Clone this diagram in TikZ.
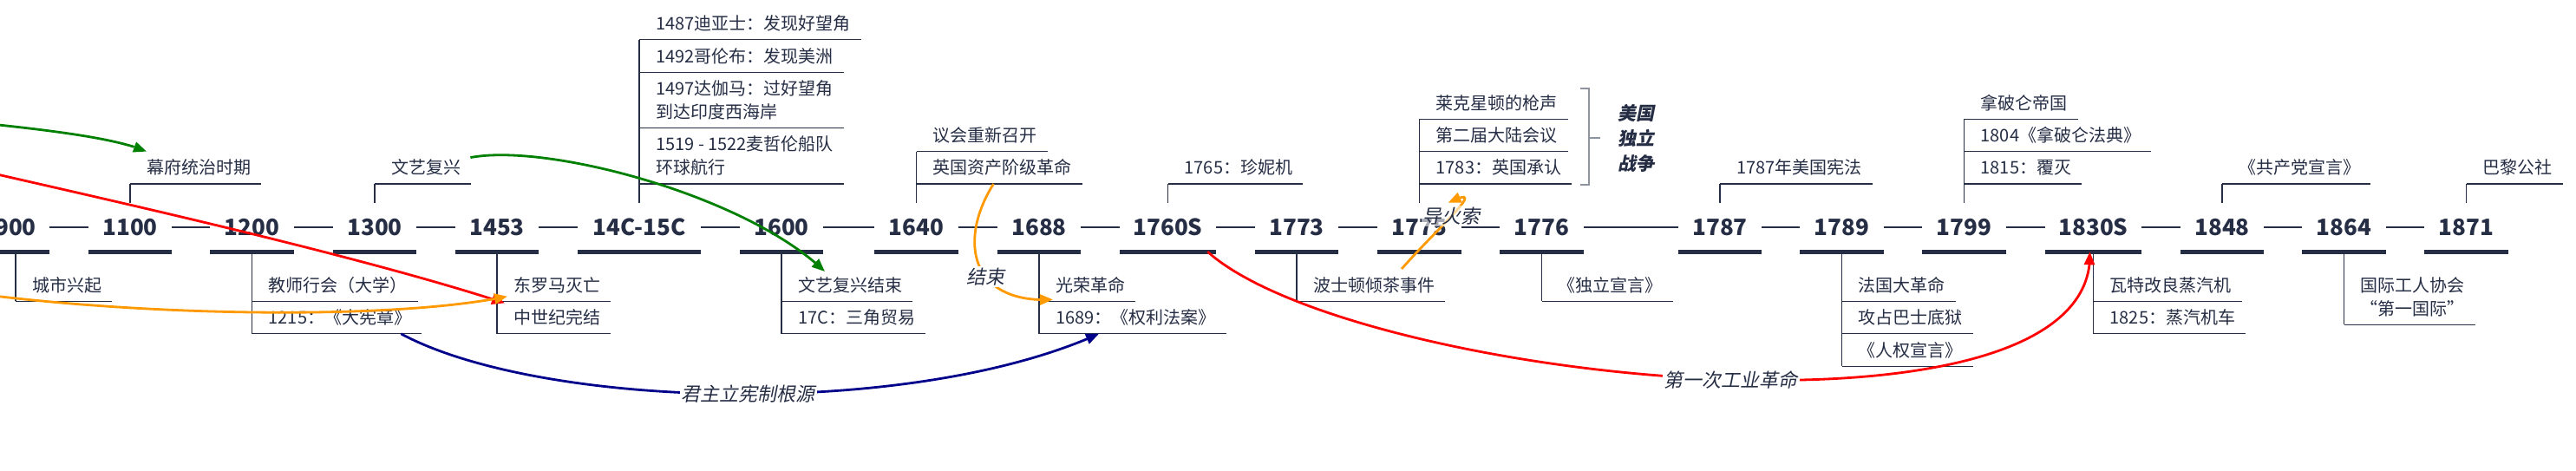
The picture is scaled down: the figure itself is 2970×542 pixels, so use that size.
\documentclass[tikz,border=0pt]{standalone}
\usepackage{fontspec}
\setmainfont{Noto Sans CJK SC}
\newfontfamily\slantfont{Noto Sans CJK SC}[FakeSlant=0.2,BoldFeatures={FakeSlant=0.2}]
\usetikzlibrary{positioning,arrows.meta,bending}
\definecolor{ink}{RGB}{38,46,69}
\definecolor{bracegray}{RGB}{141,147,159}
\definecolor{arrgreen}{RGB}{0,128,0}
\definecolor{arrred}{RGB}{255,0,0}
\definecolor{arrorange}{RGB}{255,153,0}
\definecolor{arrblue}{RGB}{0,0,139}
\begin{document}
\begin{tikzpicture}[x=1pt, y=-1pt,
		year/.style={font=\bfseries\fontsize{26pt}{30pt}\selectfont, text=ink, minimum width=96pt, minimum height=56pt, inner sep=0pt,
			append after command={(\tikzlastnode.south west) edge[bar] (\tikzlastnode.south east)}},
		bar/.style={draw=ink, line width=5pt},
		link/.style={draw=ink, line width=1.2pt},
		callline/.style={draw=ink, line width=1.2pt},
		item/.style={anchor=south west, font=\fontsize{20pt}{27pt}\selectfont, text=ink, align=left, inner sep=0pt, minimum height=37pt,
			append after command={([xshift=-19pt]\tikzlastnode.south west) edge[callline] ([xshift=12pt]\tikzlastnode.south east)}},
		curve/.style={line width=2.8pt, -{Triangle[length=15pt,width=12pt]}},
		tag/.style={font=\slantfont\fontsize{22pt}{26pt}\selectfont, text=ink, fill=white, inner sep=2pt}
		]
	\useasboundingbox (0,0) rectangle (2970,542);
	\clip (0,0) rectangle (2970,542);
	\fill[white] (0,0) rectangle (2970,542);

	\node[year, minimum width=78pt] (y900) at (18,262) {900};
	\node[year] (y1100) at (150,262) {1100};
	\node[year] (y1200) at (290.5,262) {1200};
	\node[year] (y1300) at (432,262) {1300};
	\node[year] (y1453) at (573,262) {1453};
	\node[year, minimum width=142pt] (y14c) at (737,262) {14C-15C};
	\node[year] (y1600) at (901,262) {1600};
	\node[year] (y1640) at (1056.5,262) {1640};
	\node[year] (y1688) at (1198,262) {1688};
	\node[year, minimum width=111pt] (y1760) at (1346.5,262) {1760S};
	\node[year] (y1773) at (1495,262) {1773};
	\node[year] (y1775) at (1636.5,262) {1775};
	\node[year] (y1776) at (1777.5,262) {1776};
	\node[year] (y1787) at (1983,262) {1787};
	\node[year] (y1789) at (2123.5,262) {1789};
	\node[year] (y1799) at (2264.5,262) {1799};
	\node[year, minimum width=111pt] (y1830) at (2413.5,262) {1830S};
	\node[year] (y1848) at (2562,262) {1848};
	\node[year] (y1864) at (2702.5,262) {1864};
	\node[year] (y1871) at (2843.5,262) {1871};

	\draw[link] (y900) -- (y1100) (y1100) -- (y1200) (y1200) -- (y1300) (y1300) -- (y1453)
		(y1453) -- (y14c) (y14c) -- (y1600) (y1600) -- (y1640) (y1640) -- (y1688) (y1688) -- (y1760)
		(y1760) -- (y1773) (y1773) -- (y1775) (y1775) -- (y1776) (y1776) -- (y1787) (y1787) -- (y1789)
		(y1789) -- (y1799) (y1799) -- (y1830) (y1830) -- (y1848) (y1848) -- (y1864) (y1864) -- (y1871);

	\node[item] (i1100) at (169,212) {幕府统治时期};
	\node[item] (i1300) at (451,212) {文艺复兴};
	\node[item, minimum height=64pt] (i14a) at (756,212) {1519 - 1522麦哲伦船队\\环球航行};
	\node[above=0pt of i14a.north west, item, minimum height=64pt] (i14b) {1497达伽马：过好望角\\到达印度西海岸};
	\node[above=0pt of i14b.north west, item] (i14c) {1492哥伦布：发现美洲};
	\node[above=0pt of i14c.north west, item] (i14d) {1487迪亚士：发现好望角};
	\node[item] (i1640a) at (1075.5,212) {英国资产阶级革命};
	\node[above=0pt of i1640a.north west, item] (i1640b) {议会重新召开};
	\node[item] (i1760) at (1365.5,212) {1765：珍妮机};
	\node[item] (i1775a) at (1655.5,212) {1783：英国承认};
	\node[above=0pt of i1775a.north west, item] (i1775b) {第二届大陆会议};
	\node[above=0pt of i1775b.north west, item] (i1775c) {莱克星顿的枪声};
	\node[item] (i1787) at (2002,212) {1787年美国宪法};
	\node[item] (i1799a) at (2283.5,212) {1815：覆灭};
	\node[above=0pt of i1799a.north west, item] (i1799b) {1804《拿破仑法典》};
	\node[above=0pt of i1799b.north west, item] (i1799c) {拿破仑帝国};
	\node[item] (i1848) at (2581,212) {《共产党宣言》};
	\node[item] (i1871) at (2862.5,212) {巴黎公社};

	\node[item, anchor=north west] (i900) at (37,310) {城市兴起};
	\node[item, anchor=north west] (i1200a) at (309.5,310) {教师行会（大学）};
	\node[item, below=0pt of i1200a.south west, anchor=north west] (i1200b) {1215：《大宪章》};
	\node[item, anchor=north west] (i1453a) at (592,310) {东罗马灭亡};
	\node[item, below=0pt of i1453a.south west, anchor=north west] (i1453b) {中世纪完结};
	\node[item, anchor=north west] (i1600a) at (920,310) {文艺复兴结束};
	\node[item, below=0pt of i1600a.south west, anchor=north west] (i1600b) {17C：三角贸易};
	\node[item, anchor=north west] (i1688a) at (1217,310) {光荣革命};
	\node[item, below=0pt of i1688a.south west, anchor=north west] (i1688b) {1689：《权利法案》};
	\node[item, anchor=north west] (i1773) at (1514,310) {波士顿倾茶事件};
	\node[item, anchor=north west] (i1776) at (1796.5,310) {《独立宣言》};
	\node[item, anchor=north west] (i1789a) at (2142.5,310) {法国大革命};
	\node[item, below=0pt of i1789a.south west, anchor=north west] (i1789b) {攻占巴士底狱};
	\node[item, below=0pt of i1789b.south west, anchor=north west] (i1789c) {《人权宣言》};
	\node[item, anchor=north west] (i1830a) at (2432.5,310) {瓦特改良蒸汽机};
	\node[item, below=0pt of i1830a.south west, anchor=north west] (i1830b) {1825：蒸汽机车};
	\node[item, anchor=north west, minimum height=64pt, align=center] (i1864) at (2721.5,310) {国际工人协会\\“第一国际”};

	\draw[callline] (y1100.north) -- (y1100.north |- i1100.south);
	\draw[callline] (y1300.north) -- (y1300.north |- i1300.south);
	\draw[callline] (y14c.north) -- (y14c.north |- i14d.south);
	\draw[callline] (y1640.north) -- (y1640.north |- i1640b.south);
	\draw[callline] (y1760.north) -- (y1760.north |- i1760.south);
	\draw[callline] (y1775.north) -- (y1775.north |- i1775c.south);
	\draw[callline] (y1787.north) -- (y1787.north |- i1787.south);
	\draw[callline] (y1799.north) -- (y1799.north |- i1799c.south);
	\draw[callline] (y1848.north) -- (y1848.north |- i1848.south);
	\draw[callline] (y1871.north) -- (y1871.north |- i1871.south);
	\draw[callline] (y900.south) -- (y900.south |- i900.south);
	\draw[callline] (y1200.south) -- (y1200.south |- i1200b.south);
	\draw[callline] (y1453.south) -- (y1453.south |- i1453b.south);
	\draw[callline] (y1600.south) -- (y1600.south |- i1600b.south);
	\draw[callline] (y1688.south) -- (y1688.south |- i1688b.south);
	\draw[callline] (y1773.south) -- (y1773.south |- i1773.south);
	\draw[callline] (y1776.south) -- (y1776.south |- i1776.south);
	\draw[callline] (y1789.south) -- (y1789.south |- i1789c.south);
	\draw[callline] (y1830.south) -- (y1830.south |- i1830b.south);
	\draw[callline] (y1864.south) -- (y1864.south |- i1864.south);

	\coordinate (bm) at (1832,159);
	\node[font=\slantfont\bfseries\fontsize{21pt}{29pt}\selectfont, text=ink, align=center, inner xsep=20pt, inner ysep=0pt] (war) at (1886,159) {美国\\独立\\战争};
	\draw[draw=bracegray, line width=1.5pt] (1822,102) -- (1832,102) -- (1832,213) -- (1822,213);
	\draw[draw=bracegray, line width=1.5pt] (bm) -- (war.west);

	\coordinate (gsrc) at (-60,138);
	\coordinate (rsrc) at (-60,188);
	\coordinate (osrc) at (-60,334);
	\draw[curve, arrgreen] (gsrc) .. controls +(100,10) and +(-39,-17) .. (i1100.north west);
	\draw[curve, arrgreen] ([xshift=11pt,yshift=-7pt]i1300.north east) .. controls +(88,-17) and +(-91,-88) .. ([xshift=31pt,yshift=-3pt]i1600a.north west);
	\draw[curve, arrred] (rsrc) .. controls +(160,37) and +(-182,-59) .. ([xshift=-10pt,yshift=-2pt]i1453b.north west);
	\draw[curve, arrorange] (osrc) .. controls +(210,31) and +(-135,28) .. ([xshift=-7pt,yshift=-13pt]i1453a.west);
	\draw[curve, arrblue] ([xshift=-12pt]i1200b.south east) .. controls +(162,87) and +(-217,98) .. ([xshift=50pt]i1688b.south west) node[tag, pos=0.52] (jzlx) {君主立宪制根源};
	\draw[curve, arrorange] ([xshift=70pt]i1640a.south west) .. controls +(-40,63) and +(-98,5) .. ([xshift=-3pt,yshift=2pt]i1688a.south west) node[tag, pos=0.6] (js) {结束};
	\draw[curve, arrorange] ([xshift=102pt]i1773.north west) .. controls +(44,-50) and +(51,-25) .. ([xshift=33pt]y1775.north) node[tag, pos=0.45, fill opacity=0.6, text opacity=1] (dhs) {导火索};
	\draw[curve, arrred] ([xshift=-10pt]y1760.south east) .. controls +(168,150) and +(10,240) .. ([xshift=-4pt]y1830.south) node[tag, pos=0.52] (gy) {第一次工业革命};
\end{tikzpicture}
\end{document}
